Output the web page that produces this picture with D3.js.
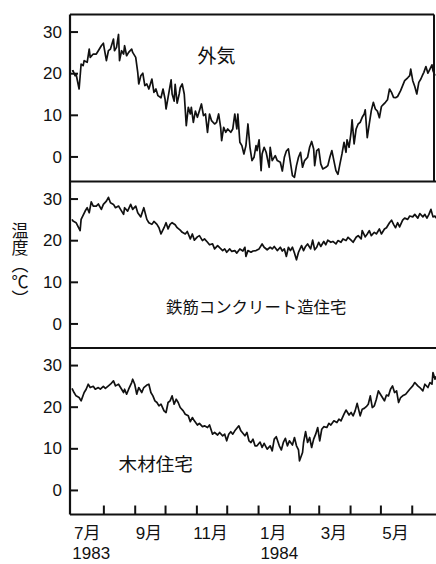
<!DOCTYPE html>
<html><head><meta charset="utf-8">
<script src="https://cdn.jsdelivr.net/npm/d3@7"></script>
<style>body{margin:0;background:#fff}svg{display:block}</style>
</head><body><svg id="chart" width="436" height="564"></svg>
<script>
// ---- data (day offsets from 1983-07-01, temperature in °C) ----
const outdoorDays = [0,1,3,4,7,9,11,12,15,17,18,21,24,26,29,31,32,34,36,38,41,42,44,46,47,49,51,52,54,56,59,60,63,65,66,68,70,72,74,76,79,81,83,85,88,90,92,93,95,98,99,101,102,104,106,107,109,111,113,115,117,118,120,122,124,126,128,130,132,134,136,138,141,143,145,147,148,150,152,154,157,159,161,163,164,166,168,170,172,174,176,178,180,182,183,185,187,188,190,192,195,196,198,201,203,206,208,210,212,214,216,218,220,222,224,226,228,230,233,235,237,239,240,242,244,246,248,251,253,255,257,259,261,263,265,267,269,271,272,274,276,277,279,281,283,285,287,289,290,292,294,296,298,300,302,304,306,308,310,312,314,316,318,320,322,325,327,329,332,334,335,337,339,341,343,345,347,348,350,352,354,356,357,359];
const outdoorTemp = [20.5,20.6,19.4,19.8,16.2,22.2,21.8,23,22.6,25.8,23.8,24.6,24.6,25.4,26.6,27.2,25.8,23,25.4,25.8,28.2,25.4,26.2,29.3,23,25.4,24.6,26.6,24.2,25,25.8,25,23.8,20.2,17.4,19.4,20,17,17.4,16.2,18.6,15.4,16.2,14.6,14.1,16.2,13.8,11.4,14.2,18.4,15,13.3,17.3,12.8,15,16.5,17.4,15,7.4,11.8,10.2,11.8,8.2,10.9,9.4,11,12.6,9.8,10.2,5.8,10.2,8.6,7.8,8.2,10.2,7,3.8,7,5.8,6.6,5.8,6.6,10.2,6.6,10.2,3.4,2.6,0.6,2.6,7.8,2.2,-1,-0.2,2.6,1.4,4,-3.4,0.6,2.2,1,-2.6,2.2,-1,0.2,-1,-1.4,-3.5,-0.2,1.3,1.8,-1.4,-4.6,-5,-2.2,-0.2,1,-2.6,-1,-0.2,2.2,3.6,1.8,-2.2,1.4,1.8,-1.8,-3,-2.6,-2.2,-0.2,1.4,-1,-3.4,-4.3,-1.8,0.6,3.4,1,4,2.2,5.8,8.8,3,6.6,7.8,8.2,9.4,10.2,11.2,4.5,7.8,11,13,11.4,10.9,9.3,12,12.5,13,13.6,16.2,15.4,14.2,14.1,14.4,15.8,17,18.2,18.9,19.4,21,18.2,16.8,15,17.8,18.6,19.7,20.2,21.6,20,21,22,20.6,19.4];

const concreteDays = [0,1,4,8,9,13,15,17,19,21,24,26,29,31,34,36,38,41,43,46,48,51,52,55,58,60,63,65,68,71,74,76,79,81,84,86,88,91,93,95,97,99,102,104,107,109,112,114,117,119,121,124,126,129,131,134,136,139,141,144,146,149,151,153,156,158,161,163,166,169,171,172,174,177,179,182,185,188,190,193,196,198,200,203,206,208,210,212,214,216,218,220,222,224,227,229,231,233,236,238,240,242,244,246,249,251,253,256,258,261,263,266,268,271,273,276,278,281,283,286,287,290,292,294,296,299,301,304,306,309,311,314,316,318,320,322,324,327,329,332,334,337,339,342,344,347,349,351,353,355,357,359,360];
const concreteTemp = [25,24.6,24.2,22.3,25,27,27.8,26.6,29.2,28.2,28.2,28.7,27.4,28.6,29.4,30.3,29,28.6,27.8,28.2,27.4,26.2,27.8,27,28.6,27.4,28.2,26.6,25.6,27.8,25,24.2,23.8,24.5,23.8,23,21.5,23,24.2,22.7,23.8,24.2,23.7,23,22.4,21.9,21.5,22.1,20.3,21.5,20,20.8,21.1,19.9,20.3,19.5,18.9,19.1,17.9,18.7,18.2,17.5,17.9,17.1,17.9,17.3,17.5,16.9,17.9,17.4,18.3,16.1,17.5,17.1,17.4,17.5,17.9,19.1,18.3,17.7,18.3,17.9,18.5,17.5,18.3,17.4,17.9,16.1,18.3,17.5,18.3,16.9,15.3,17.1,18.7,17.5,18.5,19.1,17.9,20,17.7,18.3,19.5,18.5,19.7,18.9,20,19.5,19.7,19.1,19.9,19.5,20.3,19.9,20.7,20,19.5,20.7,21.1,20.3,22.3,20.8,21.5,22.3,21.1,21.9,21.5,22.7,21.5,22.7,23,24.2,24.8,23.8,23,24.2,23.2,24.8,25.3,25,25.8,25.6,26.2,25.3,26.4,25.6,26.2,25.3,26.2,27.4,25.6,25.8,25.3];

const woodDays = [0,2,4,7,9,12,14,16,18,21,23,26,28,31,33,36,38,41,43,46,48,51,52,54,56,59,60,62,64,66,69,71,74,76,78,80,82,84,86,88,91,93,95,97,99,101,103,105,107,110,112,115,117,119,121,124,126,129,131,134,136,139,141,144,146,149,151,153,155,157,159,161,163,165,167,169,171,173,175,177,179,181,183,186,188,190,193,196,198,200,202,205,207,209,211,213,215,218,220,222,224,225,228,229,231,233,235,237,239,241,243,245,247,249,252,254,256,259,262,264,266,269,271,274,276,278,280,282,285,287,289,291,293,295,297,299,301,303,305,307,309,311,313,315,317,319,321,323,325,327,330,332,334,337,339,342,344,347,349,352,354,356,357,359,360];
const woodTemp = [24.4,23.4,22.6,22.2,21.4,23.4,24.2,25.4,24.6,24.9,24.2,24.6,24.2,24.9,24.4,25,25.4,26.2,25,25.4,24.6,23.4,24.2,23,24.2,25.8,26.6,25.4,23,24.6,23.4,24.6,25.2,25.4,23.4,22.6,21.4,21,20.2,20.6,19,18.6,21,21.4,22.6,20.6,21.8,21,19.8,19,18.2,17.8,16.4,17.4,16.6,15.6,16,15.2,15.4,15,15.6,13.4,13.8,13.2,13.8,13,13.4,11.8,13.4,14,13.4,14.2,14.8,15.4,14.2,13.6,13,13.8,11.8,11.4,12.2,10.6,10.6,11.5,10.2,11.2,9.8,10.6,9.4,12.2,12.8,10.6,9.6,11.4,12.4,10.6,11.8,10.8,12.6,10.6,9.6,7,9,11.4,14,11.4,12.6,10.2,12.2,13.4,15,11.8,14.6,15.2,15,16,15.6,16.6,16.2,17,16.6,18.2,19.2,18,18.6,17.8,19,20.8,17.8,19.4,19.6,20,20.6,22.6,19.8,20.2,21.8,23.8,23,22.2,21.4,22.8,22.6,24.2,25,23.4,23.8,21,22.2,22.6,23,23.6,24.2,25,25.8,25,24.6,23.8,25.4,24.6,25.8,25.4,28.2,26.6,27.3];

const panelNames = ["外気", "鉄筋コンクリート造住宅", "木材住宅"];
const yTickValues = [0, 10, 20, 30];
const monthTickDates = ["1983-08-01","1983-09-01","1983-10-01","1983-11-01","1983-12-01","1984-01-01","1984-02-01","1984-03-01","1984-04-01","1984-05-01","1984-06-01"];
const monthLabels = ["7月", "9月", "11月", "1月", "3月", "5月"];
const monthLabelDates = ["1983-07-16","1983-09-15","1983-11-15","1984-01-16","1984-03-16","1984-05-16"];
const yearLabels = ["1983", "1984"];
const yearLabelDates = ["1983-07-20","1984-01-22"];
const yAxisTitle = "温度（℃）";

// ---- layout ----
const svg = d3.select("#chart");
const W = 436, H = 564;
const left = 70, right = 435;
const panelTops = [14.5, 181.5, 348];
const panelH = 166.5;
const startDate = new Date(1983, 6, 1);
const parse = d3.timeParse("%Y-%m-%d");
const dayToDate = d => d3.timeDay.offset(startDate, d);

const x = d3.scaleTime()
  .domain([new Date(1983, 5, 29), new Date(1984, 5, 24)])
  .range([left, right]);

const NUM_FONT = "'Liberation Sans', Arial, sans-serif";
const CJK_FONT = "'Noto Sans CJK JP', sans-serif";

svg.append("rect").attr("width", W).attr("height", H).attr("fill", "#fff");

const series = [
  {days: outdoorDays, temps: outdoorTemp},
  {days: concreteDays, temps: concreteTemp},
  {days: woodDays, temps: woodTemp}
];

const titlePos = [
  {date: "1983-11-02", dy: 48, size: 19},
  {date: "1983-10-02", dy: 131, size: 16.4},
  {date: "1983-08-16", dy: 123, size: 18.6}
];

svg.append("defs").append("clipPath").attr("id", "clip")
  .append("rect").attr("x", left).attr("y", panelTops[0]).attr("width", right - left + 1).attr("height", 500);

series.forEach((s, i) => {
  const top = panelTops[i];
  const y = d3.scaleLinear().domain([-5.9, 34.1]).range([top + panelH, top]);
  const g = svg.append("g");

  const yAxis = d3.axisRight(y).tickValues(yTickValues).tickSize(8).tickFormat("");
  const ya = g.append("g").attr("transform", `translate(${left},0)`).call(yAxis);
  ya.select(".domain").remove();
  ya.selectAll("line").attr("stroke", "#111").attr("stroke-width", 2);

  g.selectAll("text.ylab").data(yTickValues).join("text")
    .attr("class", "ylab")
    .attr("x", 62).attr("y", d => y(d))
    .attr("dy", "0.36em")
    .attr("text-anchor", "end")
    .attr("font-family", NUM_FONT).attr("font-size", 17)
    .attr("fill", "#111")
    .text(d => d);

  const pts = s.days.map((d, k) => ({date: dayToDate(d), v: s.temps[k]}));
  const line = d3.line().x(d => x(d.date)).y(d => y(d.v));
  g.append("path").datum(pts)
    .attr("d", line)
    .attr("fill", "none")
    .attr("stroke", "#111")
    .attr("stroke-width", 1.7)
    .attr("stroke-linejoin", "round")
    .attr("clip-path", "url(#clip)");

  const tp = titlePos[i];
  g.append("text")
    .attr("x", x(parse(tp.date)))
    .attr("y", top + tp.dy)
    .attr("font-family", CJK_FONT).attr("font-size", tp.size)
    .attr("fill", "#111")
    .text(panelNames[i]);
});

// frame lines
const frame = svg.append("g").attr("stroke", "#111").attr("fill", "none");
frame.append("line").attr("x1", left).attr("x2", left).attr("y1", panelTops[0]).attr("y2", panelTops[2] + panelH).attr("stroke-width", 2.2);
frame.append("line").attr("x1", left).attr("x2", 434).attr("y1", panelTops[0]).attr("y2", panelTops[0]).attr("stroke-width", 2);
frame.append("line").attr("x1", 434).attr("x2", 434).attr("y1", panelTops[0]).attr("y2", panelTops[1]).attr("stroke-width", 2);
frame.append("line").attr("x1", left).attr("x2", W).attr("y1", panelTops[1]).attr("y2", panelTops[1]).attr("stroke-width", 2);
frame.append("line").attr("x1", left).attr("x2", W).attr("y1", panelTops[2]).attr("y2", panelTops[2]).attr("stroke-width", 2);

// bottom time axis with inward month ticks
const xAxis = d3.axisTop(x).tickValues(monthTickDates.map(parse)).tickSize(9).tickFormat("");
const xa = svg.append("g").attr("transform", `translate(0,${panelTops[2] + panelH})`).call(xAxis);
xa.select(".domain").remove();
xa.selectAll("line").attr("stroke", "#111").attr("stroke-width", 2);
svg.append("line").attr("x1", left).attr("x2", W).attr("y1", panelTops[2] + panelH).attr("y2", panelTops[2] + panelH)
  .attr("stroke", "#111").attr("stroke-width", 2.2);

svg.selectAll("text.mlab").data(monthLabels).join("text")
  .attr("class", "mlab")
  .attr("x", (d, k) => x(parse(monthLabelDates[k])))
  .attr("y", 539)
  .attr("text-anchor", "middle")
  .attr("font-family", NUM_FONT + ", " + CJK_FONT).attr("font-size", 17)
  .attr("fill", "#111")
  .text(d => d);

svg.selectAll("text.yrlab").data(yearLabels).join("text")
  .attr("class", "yrlab")
  .attr("x", (d, k) => x(parse(yearLabelDates[k])))
  .attr("y", 559)
  .attr("text-anchor", "middle")
  .attr("font-family", NUM_FONT).attr("font-size", 17)
  .attr("fill", "#111")
  .text(d => d);

// vertical y-axis title
svg.append("text")
  .attr("x", 20).attr("y", 222)
  .attr("font-family", CJK_FONT)
  .attr("font-size", 17)
  .attr("fill", "#111")
  .style("writing-mode", "vertical-rl")
  .text(yAxisTitle);
</script>
</body></html>
